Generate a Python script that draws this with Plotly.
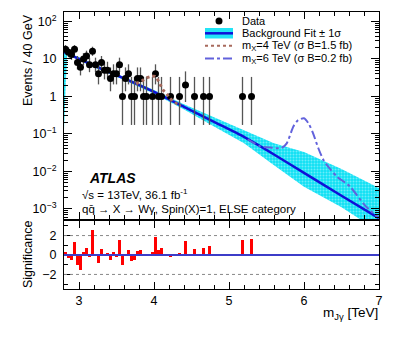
import plotly.graph_objects as go

# ---------------- data ----------------
data_x = [2.82, 2.86, 2.90, 2.94, 2.98, 3.02, 3.06, 3.10, 3.14, 3.18, 3.22, 3.26, 3.30, 3.34,
          3.38, 3.42, 3.46, 3.50, 3.54, 3.58, 3.62, 3.66, 3.70, 3.74, 3.78, 3.82, 3.86, 3.90,
          3.98, 4.02, 4.06, 4.10, 4.22, 4.34, 4.42, 4.54, 4.66, 4.74, 5.18, 5.30]
data_n = [18, 15, 13, 18, 8, 6, 10, 12, 7, 16, 7, 4, 8, 5,
          5, 3, 4, 4, 7, 1, 3, 4, 1, 1, 3, 3, 1, 1,
          1, 4, 1, 1, 1, 1, 2, 1, 1, 1, 1, 1]
# Garwood 68% Poisson intervals (lower, upper) per count
poisson_lo = {1: 0.173, 2: 0.708, 3: 1.367, 4: 2.086, 5: 2.840, 6: 3.620, 7: 4.419, 8: 5.232,
              10: 6.891, 12: 8.58, 13: 9.43, 15: 11.15, 16: 12.01, 18: 13.76}
poisson_hi = {1: 3.300, 2: 4.638, 3: 5.918, 4: 7.163, 5: 8.382, 6: 9.584, 7: 10.77, 8: 11.95,
              10: 14.27, 12: 16.56, 13: 17.70, 15: 19.96, 16: 21.09, 18: 23.33}

signif = [0.3, -0.3, -0.5, 1.3, -1.0, -1.5, 0.3, 0.7, -0.2, 2.6, 0.1, -0.85, 0.65, 0.05,
          0.2, -0.5, 0.3, -0.2, 1.5, -1.0, 0.1, 0.55, -0.6, -0.5, 0.4, 0.5, -0.1, 0.1,
          0.33, 1.9, 0.5, 0.67, -0.17, 0.23, 1.4, 0.57, 0.77, 0.9, 1.5, 1.63]

bg_x = [2.8, 3.2, 3.6, 4.0, 4.4, 4.8, 5.2, 5.6, 6.0, 6.5, 7.0]
bg_y = [15.1, 6.6, 3.02, 1.32, 0.525, 0.209, 0.083, 0.0282, 0.0091, 0.00224, 0.00056]

band_x = [2.80, 2.84, 3.2, 3.6, 4.0, 4.4, 4.8, 5.2, 5.6, 6.0, 6.5, 7.0]
band_hi = [17.0, 15.2, 7.25, 3.3, 1.48, 0.62, 0.275, 0.123, 0.056, 0.033, 0.0115, 0.0036]
band_lo = [0.13, 12.8, 6.0, 2.75, 1.18, 0.45, 0.158, 0.056, 0.0145, 0.0039, 0.0011, 0.00025]

sig4_x = [3.76, 3.84, 3.90, 3.96, 4.02, 4.08, 4.12, 4.17, 4.21, 4.26, 4.31, 4.36]
sig4_y = [2.2, 2.6, 3.1, 3.4, 3.4, 2.1, 1.5, 1.15, 0.9, 0.74, 0.63, 0.58]

sig6_x = [5.25, 5.41, 5.55, 5.70, 5.77, 5.86, 5.92, 6.00, 6.06, 6.12, 6.19, 6.26, 6.35,
          6.44, 6.61, 6.81, 7.00]
sig6_y = [0.072, 0.047, 0.043, 0.042, 0.056, 0.16, 0.23, 0.26, 0.19, 0.105, 0.042, 0.020,
          0.0115, 0.0072, 0.004, 0.00126, 0.00056]

main_tickvals = [1e-3, 1e-2, 1e-1, 1, 10, 100]
main_ticktext = ["10<sup>−3</sup>", "10<sup>−2</sup>", "10<sup>−1</sup>", "1", "10", "10<sup>2</sup>"]
sig_tickvals = [-2, 0, 2]
sig_ticktext = ["−2", "0", "2"]
x_tickvals = [3, 4, 5, 6, 7]

# ---------------- figure ----------------
OFF = 8                      # page body margin
W, H = 391, 329
ML, MR, MT, MB = 56, 20, 4, 48   # plot area on page: x 64..379, y 12..289
PW, PH = W - ML - MR, H - MT - MB
FONT = "Liberation Sans, Arial, sans-serif"
C4 = "#a86a5c"
C6 = "#6262dc"


def px(xp):  # page pixel -> paper
    return (xp - OFF - ML) / PW


def py(yp):
    return (H - MB - (yp - OFF)) / PH


fig = go.Figure()

# band
fig.add_trace(go.Scatter(
    x=band_x + band_x[::-1], y=band_hi + band_lo[::-1],
    xaxis="x2", yaxis="y2", mode="lines", line=dict(width=0, color="#22e4f6"),
    fill="toself", fillcolor="#22e4f6",
    fillpattern=dict(shape=".", bgcolor="#10e0f4", fgcolor="#c8f8ff", size=3, solidity=0.35),
    hoverinfo="skip", showlegend=False))

# background fit
fig.add_trace(go.Scatter(x=bg_x, y=bg_y, xaxis="x2", yaxis="y2", mode="lines",
                         line=dict(color="#1010d8", width=2.5, shape="spline", smoothing=0.6),
                         showlegend=False))

# data
err_up = [poisson_hi[n] - n for n in data_n]
err_dn = [n - poisson_lo[n] for n in data_n]
fig.add_trace(go.Scatter(x=data_x, y=data_n, xaxis="x2", yaxis="y2", mode="markers",
                         marker=dict(color="black", size=7),
                         error_y=dict(type="data", symmetric=False, array=err_up, arrayminus=err_dn,
                                      width=0, thickness=1.3, color="#555555"),
                         showlegend=False))

# signals
fig.add_trace(go.Scatter(x=sig4_x, y=sig4_y, xaxis="x2", yaxis="y2", mode="lines",
                         line=dict(color=C4, width=3, dash="dot", shape="spline", smoothing=0.7),
                         showlegend=False))
fig.add_trace(go.Scatter(x=sig6_x, y=sig6_y, xaxis="x2", yaxis="y2", mode="lines",
                         line=dict(color=C6, width=2, dash="dashdot", shape="spline", smoothing=0.7),
                         showlegend=False))

# significance
fig.add_trace(go.Bar(x=data_x, y=signif, width=0.04, xaxis="x", yaxis="y",
                     marker=dict(color="#ff0000", line=dict(width=0)), showlegend=False))

axis_common = dict(showline=True, linecolor="black", linewidth=1, mirror="ticks",
                   ticks="inside", tickcolor="black", showgrid=False, zeroline=False,
                   tickfont=dict(family=FONT, size=12.5, color="black"))

fig.update_layout(
    width=W, height=H, margin=dict(l=ML, r=MR, t=MT, b=MB),
    paper_bgcolor="white", plot_bgcolor="white",
    font=dict(family=FONT, color="black"),
    bargap=0, showlegend=False,
    xaxis=dict(domain=[0, 1], range=[2.8, 7], anchor="y", tickvals=x_tickvals, ticklen=7,
               minor=dict(ticks="inside", dtick=0.2, tick0=3, ticklen=4, tickcolor="black"),
               **axis_common),
    xaxis2=dict(domain=[0, 1], range=[2.8, 7], anchor="y2", matches="x", tickvals=x_tickvals,
                ticklen=7, showticklabels=False,
                minor=dict(ticks="inside", dtick=0.2, tick0=3, ticklen=4, tickcolor="black"),
                **axis_common),
    yaxis=dict(domain=[0, py(221)], range=[-3.5, 3.5], anchor="x",
               tickvals=sig_tickvals, ticktext=sig_ticktext, ticklen=7, ticklabelstandoff=4,
               minor=dict(ticks="inside", tickmode="array", tickvals=[-3, -1, 1, 3], ticklen=4,
                          tickcolor="black"),
               **axis_common),
    yaxis2=dict(domain=[py(219), 1], type="log", range=[-3.27, 2.25], anchor="x2",
                tickvals=main_tickvals, ticktext=main_ticktext, ticklen=8, ticklabelstandoff=4,
                minor=dict(ticks="inside", tickmode="array",
                           tickvals=[m * 10 ** e for e in range(-4, 3) for m in range(2, 10)],
                           ticklen=4, tickcolor="black"),
                **axis_common),
)

shapes = [
    dict(type="line", xref="x", yref="y", x0=2.8, x1=7, y0=2, y1=2,
         line=dict(color="#888888", width=1, dash="dot")),
    dict(type="line", xref="x", yref="y", x0=2.8, x1=7, y0=-2, y1=-2,
         line=dict(color="#888888", width=1, dash="dot")),
    dict(type="line", xref="x", yref="y", x0=2.8, x1=7, y0=0, y1=0,
         line=dict(color="#3c3cc8", width=2)),
    # legend symbols
    dict(type="circle", xref="paper", yref="paper", xsizemode="pixel", ysizemode="pixel",
         xanchor=px(219), yanchor=py(21), x0=-3.5, x1=3.5, y0=-3.5, y1=3.5,
         fillcolor="black", line=dict(width=0)),
    dict(type="rect", xref="paper", yref="paper", x0=px(205), x1=px(233), y0=py(28), y1=py(38.5),
         fillcolor="#22e4f6", line=dict(width=0)),
    dict(type="line", xref="paper", yref="paper", x0=px(205), x1=px(233), y0=py(33.3), y1=py(33.3),
         line=dict(color="#1010d8", width=2.5)),
    dict(type="line", xref="paper", yref="paper", x0=px(205), x1=px(233), y0=py(45.7), y1=py(45.7),
         line=dict(color=C4, width=2, dash="dot")),
    dict(type="line", xref="paper", yref="paper", x0=px(205), x1=px(233), y0=py(58.5), y1=py(58.5),
         line=dict(color=C6, width=2, dash="dashdot")),
]
fig.update_layout(shapes=shapes)

ann = []


def text(xp, yp, s, size, xanchor="left", yanchor="middle", angle=0):
    ann.append(dict(xref="paper", yref="paper", x=px(xp), y=py(yp), text=s, showarrow=False,
                    xanchor=xanchor, yanchor=yanchor, textangle=angle,
                    font=dict(family=FONT, size=size, color="black")))


text(240, 21, "Data", 11)
text(240, 33.3, "Background Fit ± 1σ", 11)
text(240, 45.7, "m<sub>X</sub>=4 TeV (σ B=1.5 fb)", 11)
text(240, 58.5, "m<sub>X</sub>=6 TeV (σ B=0.2 fb)", 11)
text(87, 178, "<b><i>ATLAS</i></b>", 14)
text(80, 194, "√s = 13TeV, 36.1 fb<sup>-1</sup>", 11.5)
text(80, 209, "qq̄ → X → Wγ, Spin(X)=1, ELSE category", 11.5)
text(28, 12, "Events / 40 GeV", 12.5, xanchor="center", yanchor="top", angle=-90)
text(28, 255, "Significance", 12.5, xanchor="center", yanchor="middle", angle=-90)
text(380, 313, "m<sub>Jγ</sub> [TeV]", 13.5, xanchor="right", yanchor="middle")
fig.update_layout(annotations=ann)

fig.write_html("out.html")
